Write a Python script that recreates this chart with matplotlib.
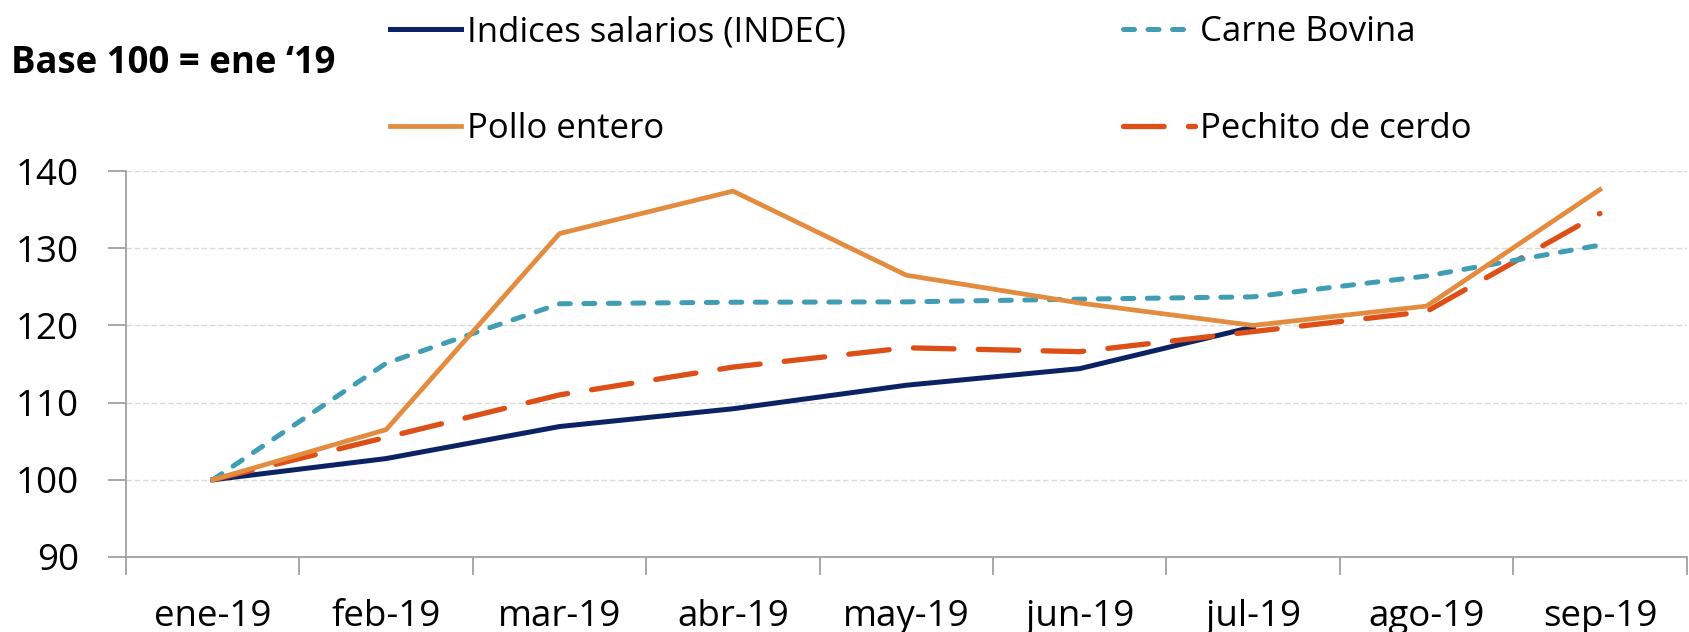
import matplotlib
matplotlib.use("Agg")
import matplotlib.pyplot as plt
import numpy as np

# data
months = ["ene-19", "feb-19", "mar-19", "abr-19", "may-19", "jun-19", "jul-19", "ago-19", "sep-19"]
salarios = [100, 102.75, 106.9, 109.2, 112.25, 114.4, 119.8]
carne = [100, 115.1, 122.8, 123.0, 123.05, 123.4, 123.7, 126.4, 130.4]
pollo = [100, 106.5, 131.9, 137.4, 126.5, 122.9, 120.0, 122.5, 137.6]
pechito = [100, 105.5, 111.0, 114.6, 117.1, 116.6, 119.2, 121.8, 134.5]

plt.rcParams['font.family'] = ['Open Sans', 'DejaVu Sans']

fig = plt.figure(figsize=(16.9, 6.32), dpi=100)
ax = fig.add_axes([0.0746, 0.1187, 0.9234, 0.6107])

x = np.arange(len(months))
l1, = ax.plot(x[:len(salarios)], salarios, color='#0B2265', lw=3.6, label='Indices salarios (INDEC)', zorder=3)
l4, = ax.plot(x, pechito, color='#DD4F16', lw=3.8, dashes=(7.7, 4.6), dash_capstyle='round',
              label='Pechito de cerdo', zorder=4)
l2, = ax.plot(x, carne, color='#419DB4', lw=3.6, dashes=(2.2, 2.7), dash_capstyle='round',
              label='Carne Bovina', zorder=5)
l3, = ax.plot(x, pollo, color='#E38B3F', lw=3.4, label='Pollo entero', zorder=6)

ax.set_xlim(-0.5, len(months) - 0.5)
ax.set_ylim(90, 140)
ax.set_yticks(np.arange(90, 141, 10))
ax.set_xticks(x)
ax.set_xticklabels(months)
ax.set_xticks(np.arange(-0.5, len(months), 1), minor=True)
ax.tick_params(axis='x', which='major', length=0, pad=30, labelsize=26.5)
ax.tick_params(axis='x', which='minor', length=13, width=1.3, color='#A0A0A0')
ax.tick_params(axis='y', length=13, width=1.3, color='#A0A0A0', pad=21, labelsize=26.5)

ax.grid(axis='y', color='#D9D9D9', linestyle=(0, (4, 2)), lw=1)
ax.set_axisbelow(True)
for s in ['top', 'right']:
    ax.spines[s].set_visible(False)
for s in ['left', 'bottom']:
    ax.spines[s].set_color('#A0A0A0')
    ax.spines[s].set_linewidth(1.3)

fig.text(0.0065, 0.900, "Base 100 = ene \u201819", fontsize=26.3, fontweight='bold', va='center', ha='left')

fig.legend([l1, l3, l2, l4], [l.get_label() for l in [l1, l3, l2, l4]],
           loc='upper left', bbox_to_anchor=(0.212, 1.025), ncol=2, frameon=False,
           fontsize=25, handlelength=2.07, handletextpad=0.15, columnspacing=8.0,
           labelspacing=1.8)

fig.savefig("out.png", dpi=100)
